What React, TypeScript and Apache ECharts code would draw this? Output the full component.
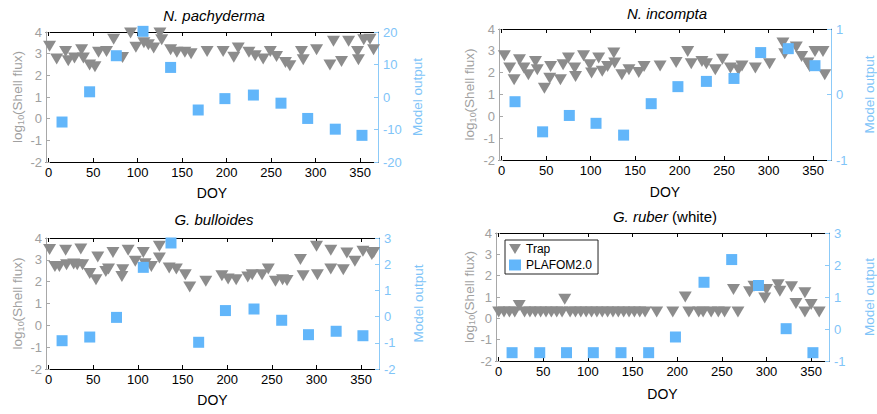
import React, { useEffect, useRef } from "react";
import * as echarts from "echarts";

const FONT = "'Liberation Sans', Arial, Helvetica, sans-serif";
const GRAY = "#8c8c8c";
const BLUE = "#62b6fa";
const LEFT_TXT = "#a0a0a0";
const RIGHT_TXT = "#80c4f8";

const doyTicks = [0, 50, 100, 150, 200, 250, 300, 350];
const modelDoy = [15, 46, 76, 106, 137, 168, 198, 230, 261, 291, 322, 352];

// N. pachyderma
const pachyTrapDoy = [1, 9, 19, 22, 29, 37, 39, 46, 52, 56, 65, 73, 83, 92, 98, 107, 112, 118, 125, 127, 137, 144, 153, 160, 178, 196, 208, 213, 225, 232, 241, 249, 256, 266, 271, 284, 286, 301, 316, 320, 329, 337, 347, 348, 354, 361, 365];
const pachyTrapFlux = [3.34, 2.75, 3.1, 2.67, 2.8, 3.18, 2.8, 2.48, 2.4, 3.06, 3.1, 3.67, 2.82, 3.95, 3.3, 3.5, 3.41, 3.26, 3.95, 3.64, 3.18, 3.06, 3.06, 3.0, 3.1, 3.1, 2.84, 3.26, 3.06, 2.9, 2.75, 3.1, 2.87, 2.59, 2.44, 3.1, 2.72, 3.18, 2.48, 3.57, 2.64, 3.57, 3.1, 2.72, 3.64, 3.67, 3.18];
const pachyModel = [-7.7, 1.6, 12.7, 20.2, 9.1, -4.0, -0.5, 0.6, -1.9, -6.6, -9.9, -11.8];

// N. incompta
const incTrapDoy = [3, 9, 14, 20, 25, 30, 38, 40, 48, 54, 55, 66, 69, 75, 82, 83, 92, 99, 101, 109, 113, 119, 126, 127, 135, 143, 154, 160, 178, 196, 209, 213, 225, 230, 240, 248, 257, 266, 270, 285, 301, 316, 318, 331, 337, 344, 346, 352, 361, 363];
const incTrapFlux = [2.77, 2.21, 1.67, 2.59, 2.21, 1.9, 2.51, 2.13, 1.29, 1.75, 2.28, 1.67, 2.36, 2.67, 2.21, 1.83, 2.77, 2.36, 1.98, 2.67, 2.06, 2.28, 2.9, 2.44, 1.9, 2.13, 2.01, 2.28, 2.31, 2.47, 2.97, 2.41, 2.51, 2.41, 2.13, 2.62, 2.21, 2.13, 2.31, 2.21, 2.41, 3.36, 2.87, 3.17, 2.74, 2.44, 2.28, 2.97, 2.97, 1.9];
const incModel = [-0.11, -0.57, -0.32, -0.44, -0.62, -0.14, 0.12, 0.2, 0.245, 0.64, 0.7, 0.44];

// G. bulloides
const bullTrapDoy = [1, 7, 12, 19, 20, 28, 32, 36, 38, 46, 53, 55, 64, 67, 72, 82, 83, 89, 97, 106, 108, 115, 124, 124, 135, 143, 153, 158, 176, 194, 201, 210, 223, 228, 239, 246, 254, 262, 267, 282, 285, 300, 301, 316, 316, 330, 334, 343, 352, 362, 364];
const bullTrapFlux = [3.47, 2.7, 2.7, 3.44, 2.78, 2.81, 2.78, 3.5, 2.78, 2.37, 2.09, 3.13, 2.47, 2.58, 3.34, 2.24, 2.55, 3.44, 2.93, 3.34, 2.82, 2.7, 3.62, 3.08, 2.63, 2.58, 2.32, 1.76, 2.02, 2.27, 2.12, 2.09, 2.21, 2.32, 2.32, 2.58, 2.02, 2.09, 2.05, 3.01, 2.27, 3.62, 2.32, 3.44, 2.58, 2.55, 3.31, 2.93, 3.39, 3.24, 3.34];
const bullModel = [-0.92, -0.78, -0.03, 1.88, 2.81, -0.98, 0.23, 0.29, -0.14, -0.69, -0.56, -0.73];

// G. ruber (white)
const ruberTrapDoy = [0, 6, 12, 18, 23, 29, 35, 41, 47, 53, 59, 65, 71, 74, 80, 86, 92, 98, 104, 110, 116, 122, 128, 134, 140, 146, 152, 158, 164, 177, 195, 209, 213, 224, 229, 238, 246, 253, 263, 268, 281, 286, 298, 300, 313, 315, 328, 333, 343, 343, 350, 359];
const ruberTrapFlux = [0.3, 0.3, 0.3, 0.3, 0.6, 0.3, 0.3, 0.3, 0.3, 0.3, 0.3, 0.3, 0.3, 0.9, 0.3, 0.3, 0.3, 0.3, 0.3, 0.3, 0.3, 0.3, 0.3, 0.3, 0.3, 0.3, 0.3, 0.3, 0.3, 0.3, 0.3, 1.0, 0.3, 0.3, 0.3, 0.3, 0.3, 0.3, 1.35, 0.3, 1.25, 1.5, 0.95, 1.35, 1.58, 1.27, 1.48, 0.7, 1.2, 0.3, 0.65, 0.3];
const ruberModel = [-0.74, -0.74, -0.74, -0.74, -0.74, -0.74, -0.25, 1.46, 2.17, 1.36, 0.01, -0.74];

const leftTicksMin = -2;
const leftTicksMax = 4;

const panels = [
  { title: "{i|N. pachyderma}", tx: 214, ty: 15, trapDoy: pachyTrapDoy, trapFlux: pachyTrapFlux, model: pachyModel, rMin: -20, rMax: 20, rInt: 10, grid: { left: 46, top: 32, width: 332, height: 130 }, lGap: 21, rGap: 32, xGap: 24 },
  { title: "{i|N. incompta}", tx: 667, ty: 13, trapDoy: incTrapDoy, trapFlux: incTrapFlux, model: incModel, rMin: -1, rMax: 1, rInt: 1, grid: { left: 499, top: 29, width: 334, height: 131 }, lGap: 22, rGap: 31, xGap: 25 },
  { title: "{i|G. bulloides}", tx: 214, ty: 219, trapDoy: bullTrapDoy, trapFlux: bullTrapFlux, model: bullModel, rMin: -2, rMax: 3, rInt: 1, grid: { left: 46, top: 238, width: 333, height: 131 }, lGap: 21, rGap: 32, xGap: 24 },
  { title: "{i|G. ruber} (white)", tx: 665, ty: 216, trapDoy: ruberTrapDoy, trapFlux: ruberTrapFlux, model: ruberModel, rMin: -1, rMax: 3, rInt: 1, grid: { left: 496, top: 233, width: 334, height: 128 }, lGap: 19, rGap: 33, xGap: 26 },
];

const TRI_ICON = "path://M0,0 L12,0 L6,10 Z";

export default function App() {
  const ref = useRef<HTMLDivElement>(null);
  useEffect(() => {
    if (!ref.current) return;
    const chart = echarts.init(ref.current, undefined, { renderer: "svg" });
    const grids: any[] = [];
    const xAxes: any[] = [];
    const yAxes: any[] = [];
    const series: any[] = [];
    const graphics: any[] = [];
    panels.forEach((p, i) => {
      grids.push({ ...p.grid });
      xAxes.push({
        type: "value", gridIndex: i, position: "bottom", min: -3, max: 370,
        axisLine: { show: true, onZero: false, lineStyle: { color: "#000", width: 1 } },
        axisTick: { show: true, inside: true, length: 4, customValues: doyTicks, lineStyle: { color: "#000" } },
        axisLabel: { customValues: doyTicks, color: "#000", fontSize: 13, fontFamily: FONT, margin: 4 },
        splitLine: { show: false },
        name: "DOY", nameLocation: "middle", nameGap: p.xGap,
        nameTextStyle: { color: "#000", fontSize: 14, fontFamily: FONT },
      });
      xAxes.push({
        type: "value", gridIndex: i, position: "top", min: -3, max: 370,
        axisLine: { show: true, onZero: false, lineStyle: { color: "#000", width: 1 } },
        axisTick: { show: true, inside: true, length: 4, customValues: doyTicks, lineStyle: { color: "#000" } },
        axisLabel: { show: false },
        splitLine: { show: false },
      });
      yAxes.push({
        type: "value", gridIndex: i, position: "left", min: leftTicksMin, max: leftTicksMax, interval: 1,
        axisLine: { show: true, onZero: false, lineStyle: { color: "#a8a8a8", width: 1 } },
        axisTick: { show: true, inside: true, length: 4, lineStyle: { color: "#a8a8a8" } },
        axisLabel: { color: LEFT_TXT, fontSize: 13, fontFamily: FONT, margin: 4 },
        splitLine: { show: false },
        name: "log{sub|10}(Shell flux)", nameLocation: "middle", nameGap: p.lGap, nameRotate: 90,
        nameTextStyle: {
          color: LEFT_TXT, fontSize: 13.5, fontFamily: FONT,
          rich: { sub: { fontSize: 9, color: LEFT_TXT, fontFamily: FONT, padding: [6, 0, 0, 0] } },
        },
      });
      yAxes.push({
        type: "value", gridIndex: i, position: "right", min: p.rMin, max: p.rMax, interval: p.rInt,
        axisLine: { show: true, onZero: false, lineStyle: { color: "#8ccaf8", width: 1 } },
        axisTick: { show: true, inside: true, length: 4, lineStyle: { color: "#8ccaf8" } },
        axisLabel: { color: RIGHT_TXT, fontSize: 13, fontFamily: FONT, margin: 5 },
        splitLine: { show: false },
        name: "Model output", nameLocation: "middle", nameGap: p.rGap, nameRotate: 90,
        nameTextStyle: { color: RIGHT_TXT, fontSize: 13.5, fontFamily: FONT },
      });
      series.push({
        type: "scatter", name: "Trap", xAxisIndex: 2 * i, yAxisIndex: 2 * i,
        data: p.trapDoy.map((d, k) => [d, p.trapFlux[k]]),
        symbol: "triangle", symbolRotate: 180, symbolSize: [13, 11],
        itemStyle: { color: GRAY, opacity: 1 }, clip: false, z: 2,
      });
      series.push({
        type: "scatter", name: "PLAFOM2.0", xAxisIndex: 2 * i, yAxisIndex: 2 * i + 1,
        data: modelDoy.map((d, k) => [d, p.model[k]]),
        symbol: "rect", symbolSize: 11,
        itemStyle: { color: BLUE, opacity: 1 }, clip: false, z: 3,
      });
      graphics.push({
        type: "text", x: p.tx, y: p.ty,
        style: {
          text: p.title, fill: "#000", fontSize: 15, fontFamily: FONT,
          align: "center", verticalAlign: "middle",
          rich: { i: { fontStyle: "italic", fontSize: 15, fontFamily: FONT, fill: "#000" } },
        },
      });
    });
    chart.setOption({
      animation: false,
      backgroundColor: "#fff",
      grid: grids,
      xAxis: xAxes,
      yAxis: yAxes,
      series,
      graphic: graphics,
      legend: {
        show: true,
        data: [
          { name: "Trap", icon: TRI_ICON },
          { name: "PLAFOM2.0", icon: "rect" },
        ],
        orient: "vertical",
        left: 505, top: 240, padding: [3, 6, 3, 4], itemGap: 4, itemWidth: 12, itemHeight: 11,
        borderColor: "#222", borderWidth: 1, backgroundColor: "#fff",
        textStyle: { fontSize: 12, color: "#000", fontFamily: FONT },
      },
    });
    return () => chart.dispose();
  }, []);
  return <div ref={ref} style={{ position: "absolute", left: 0, top: 0, width: 877, height: 414 }} />;
}
